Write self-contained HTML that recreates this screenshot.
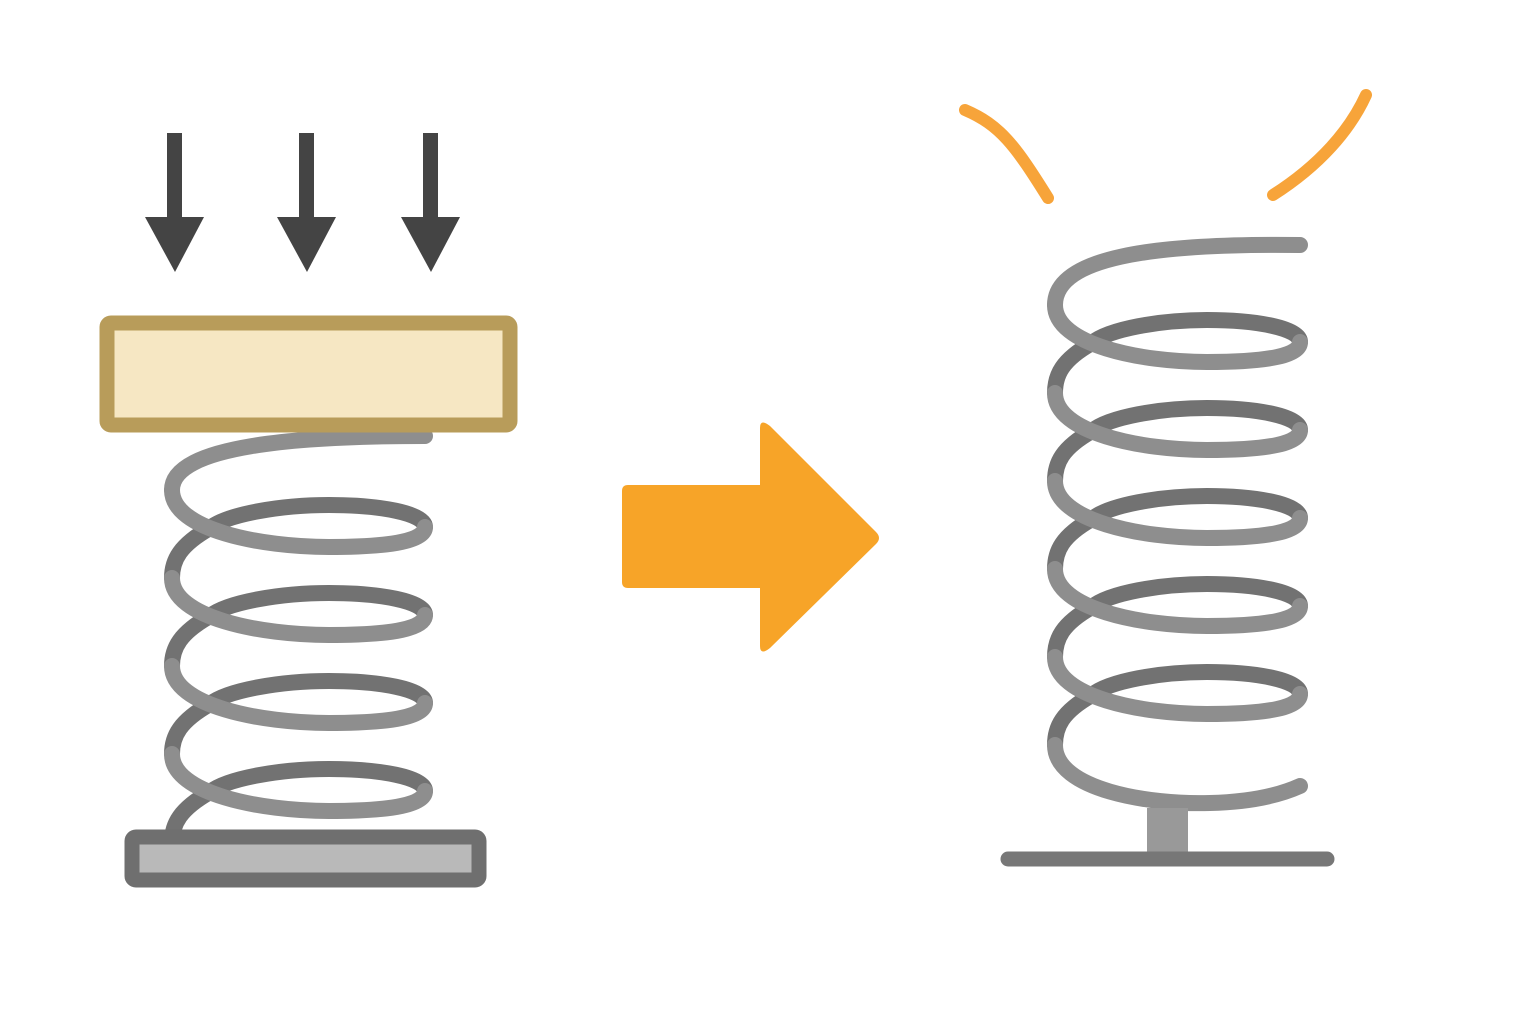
<!DOCTYPE html>
<html><head><meta charset="utf-8"><style>html,body{margin:0;padding:0;background:#fff}</style></head>
<body>
<svg width="1536" height="1024" viewBox="0 0 1536 1024" xmlns="http://www.w3.org/2000/svg">
<defs>
<path id="rb" d="M1300 37 C1300 23 1256 15 1207 15 C1160 15 1109 24 1092 38 C1062 55 1055 70 1055 88"/>
<path id="rf" d="M1055 0 C1055 40 1141 57 1207 57 C1271 57 1300 50 1300 37"/>
<path id="lb" d="M425 37 C425 23 379 15 329 15 C281 15 228 24 210 38 C180 55 172 70 172 88"/>
<path id="lf" d="M172 0 C172 40 261 57 329 57 C395 57 425 50 425 37"/>
</defs>
<rect width="1536" height="1024" fill="#fff"/>
<g fill="#444">
<rect x="167" y="133" width="15" height="88"/><polygon points="145,217 204,217 175,272"/>
<rect x="299" y="133" width="15" height="88"/><polygon points="277,217 336,217 307,272"/>
<rect x="423" y="133" width="15" height="88"/><polygon points="401,217 460,217 431,272"/>
</g>
<g fill="none" stroke-linecap="round" stroke-width="16">
<g stroke="#727272">
<use href="#rb" transform="translate(0,305)"/>
<use href="#rb" transform="translate(0,393)"/>
<use href="#rb" transform="translate(0,481)"/>
<use href="#rb" transform="translate(0,569)"/>
<use href="#rb" transform="translate(0,657)"/>
<use href="#lb" transform="translate(0,490)"/>
<use href="#lb" transform="translate(0,578)"/>
<use href="#lb" transform="translate(0,666)"/>
<use href="#lb" transform="translate(0,754)"/>
</g>
<g stroke="#8e8e8e">
<path d="M1300 245 C1150 243 1055 258 1055 305"/>
<path d="M425 436 C300 436 172 445 172 490"/>
<use href="#rf" transform="translate(0,305)"/>
<use href="#rf" transform="translate(0,393)"/>
<use href="#rf" transform="translate(0,481)"/>
<use href="#rf" transform="translate(0,569)"/>
<use href="#rf" transform="translate(0,657)"/>
<path d="M1055 745 C1055 790 1150 805 1210 803 C1250 802 1280 795 1300 786"/>
<use href="#lf" transform="translate(0,490)"/>
<use href="#lf" transform="translate(0,578)"/>
<use href="#lf" transform="translate(0,666)"/>
<use href="#lf" transform="translate(0,754)"/>
</g>
</g>
<rect x="107" y="323" width="403" height="102" rx="4" fill="#f6e7c3" stroke="#b89c5a" stroke-width="15"/>
<rect x="132" y="837" width="347" height="43" rx="4" fill="#b9b9b9" stroke="#6f6f6f" stroke-width="15"/>
<path d="M628 485 H760 V428 Q760 418 770 426 L876 532 Q882 538 876 544 L770 648 Q760 656 760 646 V588 H628 Q622 588 622 582 V491 Q622 485 628 485 Z" fill="#f7a428"/>
<rect x="1147" y="808" width="41" height="47" fill="#999"/>
<line x1="1008" y1="859" x2="1327" y2="859" stroke="#777" stroke-width="15" stroke-linecap="round"/>
<g fill="none" stroke="#f7a43a" stroke-width="12" stroke-linecap="round">
<path d="M965 110 C1000 125 1015 145 1048 198"/>
<path d="M1273 195 C1320 165 1350 130 1366 95"/>
</g>
</svg>
</body></html>
